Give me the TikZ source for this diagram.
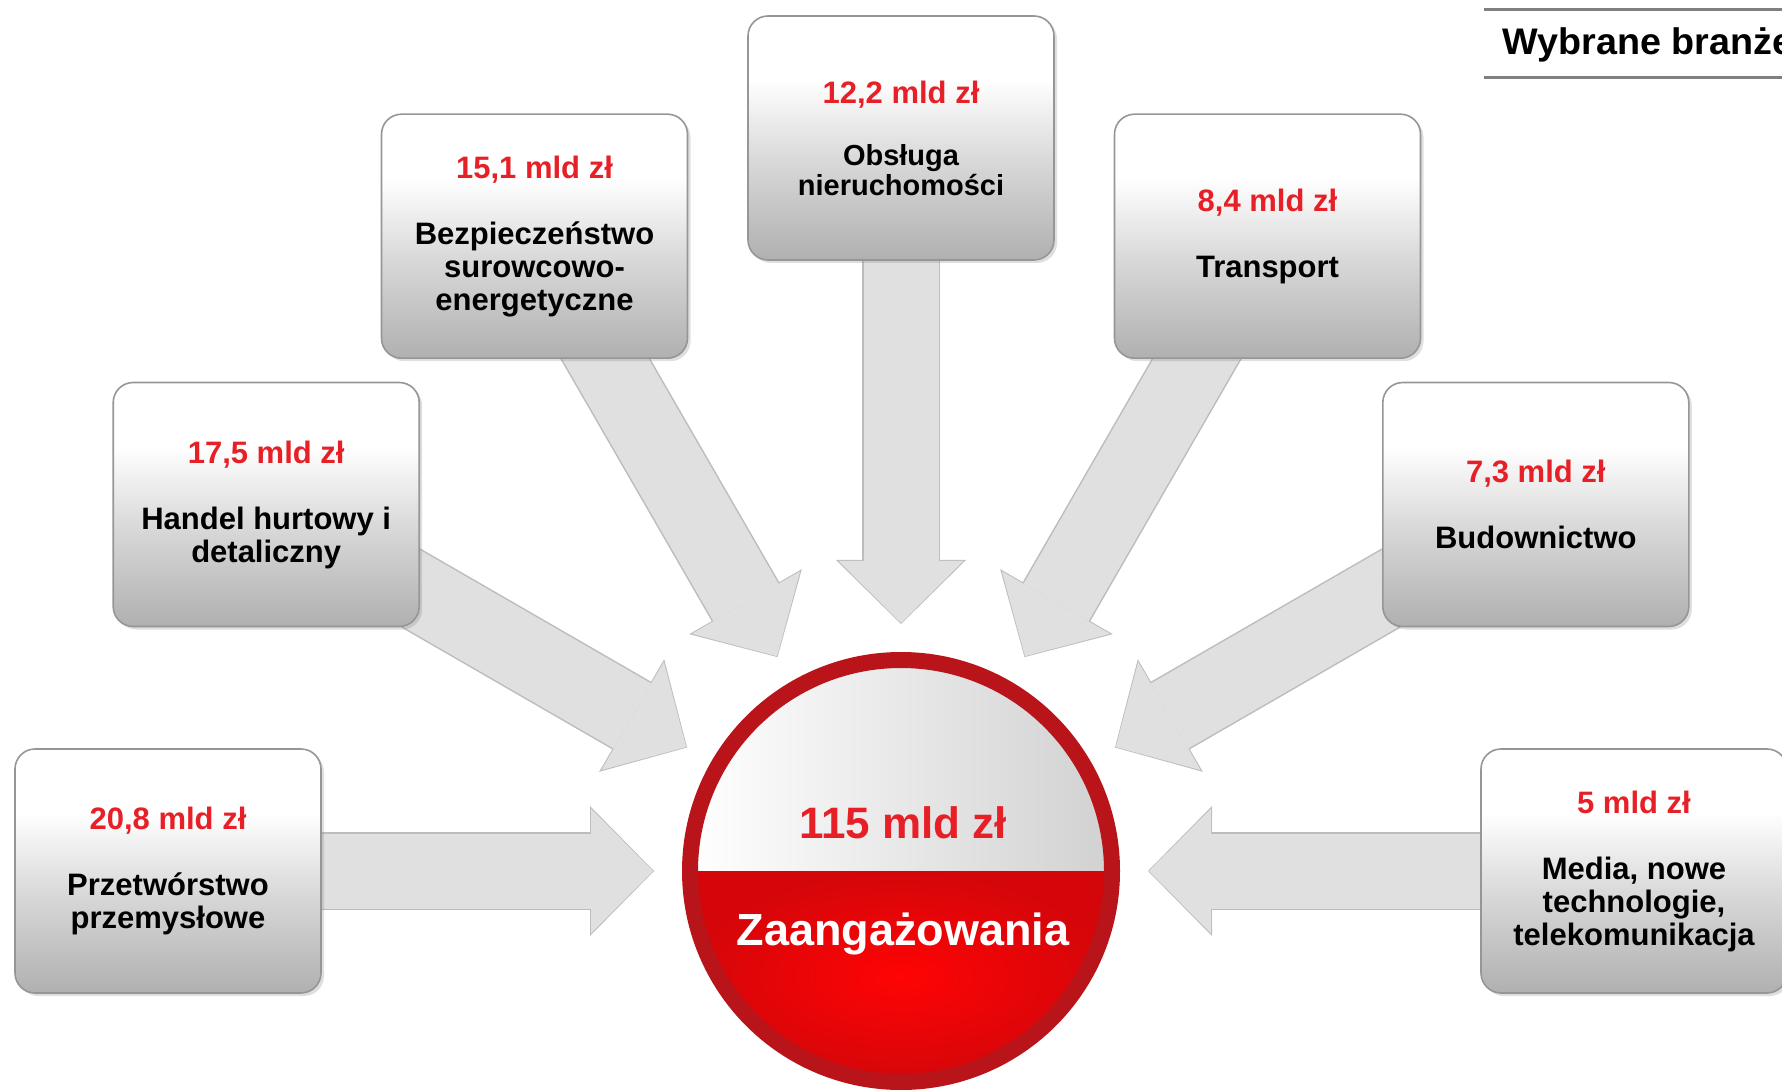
\documentclass[tikz,border=0pt]{standalone}
\usepackage{fontspec}
\setmainfont{Liberation Sans}
\newfontfamily\tytulfont[FakeStretch=1.02]{Liberation Sans}
\usetikzlibrary{calc,arrows.meta,backgrounds,shadows}
\definecolor{KwotaRed}{RGB}{230,32,38}
\definecolor{BoxGray}{RGB}{176,176,176}
\definecolor{BoxMid}{RGB}{218,218,218}
\definecolor{BoxEdge}{RGB}{150,150,150}
\definecolor{ArrowFill}{RGB}{224,224,224}
\definecolor{ArrowEdge}{RGB}{188,188,188}
\definecolor{RingRed}{RGB}{184,20,26}
\definecolor{FlagRed}{RGB}{255,4,4}
\definecolor{FlagDark}{RGB}{212,6,10}
\definecolor{LineGray}{RGB}{128,128,128}
\pgfdeclareverticalshading{sectorshade}{100bp}{color(0bp)=(BoxGray); color(25bp)=(BoxGray); color(46bp)=(BoxMid); color(62bp)=(white); color(100bp)=(white)}
\newcommand{\kwota}[1]{\textcolor{KwotaRed}{#1}}

\begin{document}
\begin{tikzpicture}[x=0.5pt, y=-0.5pt,
  sector/.style={rectangle, rounded corners=10pt, shade, shading=sectorshade, draw=BoxEdge, line width=0.8pt,
    minimum width=153pt, minimum height=122pt, align=center, font=\fontsize{15.5}{16.5}\selectfont\bfseries,
    drop shadow={shadow xshift=1.5pt, shadow yshift=-1.5pt, opacity=0.25}},
  strzalka/.style={draw=ArrowFill, line width=37.5pt, shorten >=14.5pt, -{Triangle[length=31pt, width=62.5pt, line width=0pt]},
    preaction={draw=ArrowEdge, line width=39pt, shorten >=14pt, -{Triangle[length=32pt, width=65pt, line width=0pt]}}}]
\useasboundingbox (0,0) rectangle (1782,1090); % page, in pixels of the reference
\clip (0,0) rectangle (1782,1090);
\coordinate (srodek) at (901,871); % centre of the badge

\draw[LineGray, line width=1.5pt] (1484,10) -- (1782,10); % title rules
\draw[LineGray, line width=1.5pt] (1484,78) -- (1782,78);
\node[anchor=base west, inner sep=0pt, font=\tytulfont\fontsize{18.5}{20}\selectfont\bfseries] (tytul) at (1502,55) {Wybrane branże};

% badge
\node[circle, minimum size=211pt, inner sep=0pt, outer sep=4pt, draw=RingRed, line width=8pt,
  path picture={
    \shade[left color=white, middle color=white, right color=black!18] (path picture bounding box.north west) rectangle (path picture bounding box.east);
    \shade[inner color=FlagRed, outer color=FlagDark] (path picture bounding box.west) rectangle (path picture bounding box.south east);
  }] (zaangazowanie) at (srodek) {};
\node[anchor=base, text=KwotaRed, font=\fontsize{22}{24}\selectfont\bfseries] (suma) at (903,838) {115 mld zł};
\node[anchor=base, text=white, font=\fontsize{22.5}{24}\selectfont\bfseries] (opis) at (903,945) {Zaangażowania};

% sectors, every 30 degrees round the badge
\node[sector] (przetworstwo) at ($(srodek)+(180:733)$) {\kwota{20,8 mld zł}\\[16.5pt]Przetwórstwo\\przemysłowe};
\node[sector] (handel) at ($(srodek)+(-150:733)$) {\kwota{17,5 mld zł}\\[16.5pt]Handel hurtowy i\\detaliczny};
\node[sector] (bezpieczenstwo) at ($(srodek)+(-120:733)$) {\kwota{15,1 mld zł}\\[16.5pt]Bezpieczeństwo\\surowcowo-\\energetyczne};
\node[sector, font=\fontsize{14.5}{15}\selectfont\bfseries] (nieruchomosci) at ($(srodek)+(-90:733)$) {{\fontsize{15.5}{16}\selectfont\kwota{12,2 mld zł}}\\[16pt]Obsługa\\nieruchomości};
\node[sector] (transport) at ($(srodek)+(-60:733)$) {\kwota{8,4 mld zł}\\[16.5pt]Transport};
\node[sector] (budownictwo) at ($(srodek)+(-30:733)$) {\kwota{7,3 mld zł}\\[16.5pt]Budownictwo};
\node[sector] (media) at ($(srodek)+(0:733)$) {\kwota{5 mld zł}\\[16.5pt]Media, nowe\\technologie,\\telekomunikacja};

\begin{scope}[on background layer]
\draw[strzalka] (przetworstwo.center) -- (zaangazowanie);
\draw[strzalka] (handel.center) -- (zaangazowanie);
\draw[strzalka] (bezpieczenstwo.center) -- (zaangazowanie);
\draw[strzalka] (nieruchomosci.center) -- (zaangazowanie);
\draw[strzalka] (transport.center) -- (zaangazowanie);
\draw[strzalka] (budownictwo.center) -- (zaangazowanie);
\draw[strzalka] (media.center) -- (zaangazowanie);
\end{scope}
\end{tikzpicture}
\end{document}
